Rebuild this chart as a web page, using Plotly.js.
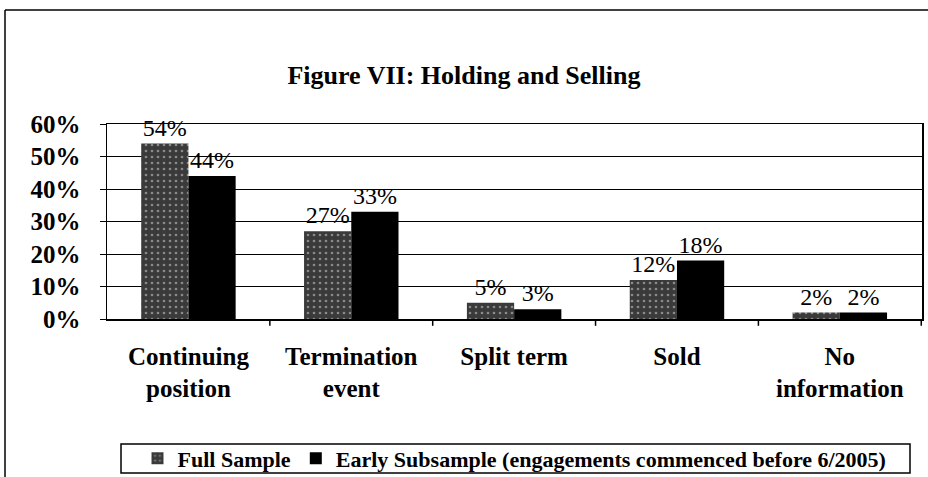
<!DOCTYPE html>
<html>
<head>
<meta charset="utf-8">
<script src="https://cdn.plot.ly/plotly-3.0.1.min.js"></script>
<style>html,body{margin:0;padding:0;background:#fff}#chart{width:928px;height:477px}</style>
</head>
<body>
<div id="chart"></div>
<script>
var categories = ["Continuing<br>position", "Termination<br>event", "Split term", "Sold", "No<br>information"];
var fullSample = [54, 27, 5, 12, 2];
var earlySubsample = [44, 33, 3, 18, 2];
var seriesNames = ["<b>Full Sample</b>", "<b>Early Subsample (engagements commenced before 6/2005)</b>"];
var yTicks = [0, 10, 20, 30, 40, 50, 60];
var yTickLabels = ["0%", "10%", "20%", "30%", "40%", "50%", "60%"];

var serif = "Liberation Serif, Times New Roman, serif";

var traces = [
  {
    type: "bar", name: seriesNames[0], x: categories, y: fullSample,
    marker: {color: "#4d4d4d", pattern: {shape: ".", fgcolor: "#8a8a8a", bgcolor: "#3a3a3a", size: 6, solidity: 0.15}},
    text: fullSample.map(function(v){return v + "%";}), textposition: "outside",
    textfont: {family: serif, size: 24, color: "#000"}, cliponaxis: false
  },
  {
    type: "bar", name: seriesNames[1], x: categories, y: earlySubsample,
    marker: {color: "#000000"},
    text: earlySubsample.map(function(v){return v + "%";}), textposition: "outside",
    textfont: {family: serif, size: 24, color: "#000"}, cliponaxis: false
  }
];

var layout = {
  width: 928, height: 477,
  margin: {l: 107, r: 6, t: 124, b: 158, autoexpand: false},
  paper_bgcolor: "#fff", plot_bgcolor: "#fff",
  title: {text: "<b>Figure VII: Holding and Selling</b>", font: {family: serif, size: 26, color: "#000"}, x: 0.5, xanchor: "center", y: 0.842, yanchor: "middle"},
  barmode: "group", bargap: 0.42, bargroupgap: 0,
  showlegend: true,
  legend: {orientation: "h", x: 0.5, xanchor: "center", y: -0.715, yanchor: "middle",
           font: {family: serif, size: 22, color: "#000"}, borderwidth: 0, bgcolor: "rgba(0,0,0,0)",
           itemwidth: 30, traceorder: "normal", tracegroupgap: 0},
  xaxis: {
    showline: true, linecolor: "#000", linewidth: 1.5, mirror: true,
    ticks: "", tickfont: {family: serif, size: 25, color: "#000"}, ticklabelstandoff: 14,
    tickprefix: "<b>", ticksuffix: "</b>", showgrid: false, automargin: false
  },
  yaxis: {
    range: [0, 60], tickvals: yTicks, ticktext: yTickLabels.map(function(t){return "<b>" + t + "</b>";}),
    ticks: "outside", ticklen: 6, tickcolor: "#000", ticklabelstandoff: 14,
    showline: true, linecolor: "#000", linewidth: 1.5, mirror: true,
    showgrid: true, gridcolor: "#000", gridwidth: 1, zeroline: false, automargin: false,
    tickfont: {family: serif, size: 25, color: "#000"}
  },
  shapes: [
    {type: "line", xref: "paper", yref: "paper", x0: -102/815, x1: -102/815, y0: -1, y1: (319-10)/195, line: {color: "#000", width: 1.5}},
    {type: "line", xref: "paper", yref: "paper", x0: -102/815, x1: 1.2, y0: (319-10)/195, y1: (319-10)/195, line: {color: "#000", width: 1.5}},
    {type: "rect", xref: "paper", yref: "paper", x0: (121-107)/815, x1: (910-107)/815, y0: (319-444)/195, y1: (319-473)/195, line: {color: "#000", width: 1.5}}
  ].concat([0.5, 1.5, 2.5, 3.5, 4.5].map(function(k){
    return {type: "line", xref: "x", yref: "paper", x0: k, x1: k, y0: 0, y1: -0.035, line: {color: "#000", width: 1.5}};
  }))
};
Plotly.newPlot("chart", traces, layout, {displayModeBar: false, staticPlot: true});
</script>
</body>
</html>
